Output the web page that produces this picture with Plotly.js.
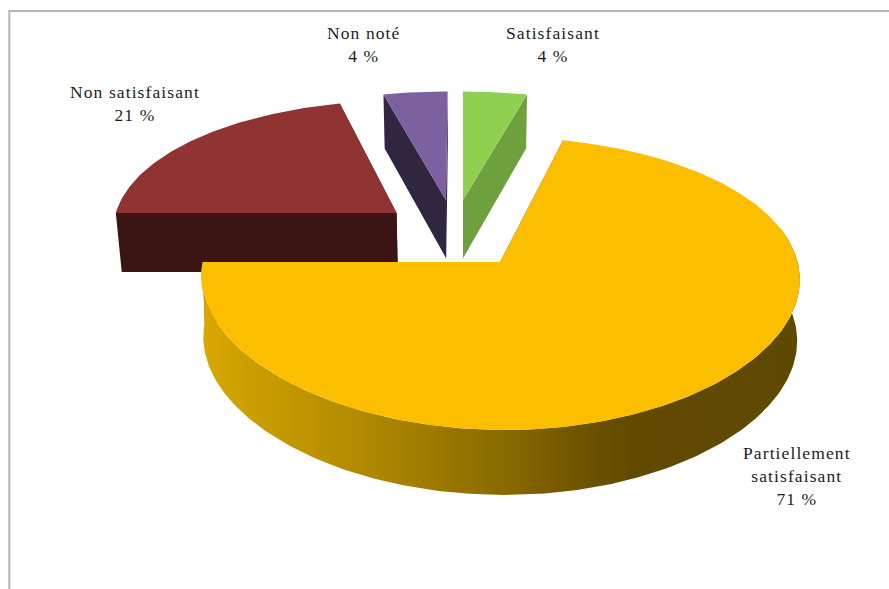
<!DOCTYPE html>
<html lang="fr">
<head>
<meta charset="utf-8">
<title>Répartition des évaluations</title>
<script src="https://cdn.plot.ly/plotly-3.0.1.min.js"></script>
<style>
  html, body { margin: 0; padding: 0; background: #fff; }
  #chart { width: 889px; height: 589px; }
  .annotation-text { letter-spacing: 1.1px; }
</style>
</head>
<body>
<div id="chart"></div>
<script>
// Shares of each rating, in the order they run round the disc.
const categories = ["Partiellement<br>satisfaisant", "Satisfaisant", "Non noté", "Non satisfaisant"];
const shares = [71, 4, 4, 21];

// Colours of each slice: top face and side wall.
const topColors = ["#fcbf00", "#90d050", "#7d60a0", "#8f3432"];
const wallColors = ["#614a00", "#6ea13e", "#302640", "#3b1513"];

// How far each slice is pulled off the disc centre, in radii.
const pullU = [0.124, 0, -0.06, -0.231];
const pullV = [0, 0.472, 0.472, 0.367];

// Small per-slice corrections to the radius: across, and towards the back of the disc.
const radiusU = [0.995, 1, 1, 0.977];
const radiusBack = [1.03, 1.02, 1.02, 1.03];

// Narrowing of each slice's lower edge towards the vanishing line.
const wallTaper = [0.992, 0.985, 0.985, 0.983];

// Label anchors on the pixel-sized axes.
const labelX = [797, 553, 363, 134.5];
const labelY = [476, 44, 44, 103];

// Gradient along the big slice's rim, left to right.
const rimStops = [
  [0, "#d9a900"], [0.1, "#c89c00"], [0.3, "#ad8600"],
  [0.5, "#8a6a00"], [0.66, "#6a5000"], [0.72, "#614a00"], [1, "#5f4800"]
];

// Perspective camera for the tilted disc.
const CAM = { xv: 463, yv: 262, R: 299, S: 141.3, ky: 0.1586, kx: 0.11 };
const START_DEG = 180;

function project(u, v) {
  const wy = 1 + CAM.ky * v, wx = 1 + CAM.kx * v;
  return { x: CAM.xv + CAM.R * u / wx, y: CAM.yv - CAM.S * v / wy, w: wy };
}
function lower(p, i) {
  return { x: CAM.xv + (p.x - CAM.xv) * wallTaper[i], y: p.y + 65 - 28 * (p.w - 0.84) };
}
function rimPoint(i, deg) {
  const t = deg * Math.PI / 180;
  const sin = Math.sin(t);
  return project(
    pullU[i] + radiusU[i] * Math.cos(t),
    pullV[i] + (sin > 0 ? radiusBack[i] : 1) * sin
  );
}
function arc(i, a, b) {
  const n = Math.max(2, Math.ceil(Math.abs(b - a)));
  const pts = [];
  for (let k = 0; k <= n; k++) pts.push(rimPoint(i, a + (b - a) * k / n));
  return pts;
}
function polygon(pts, color, gradient) {
  const tr = {
    type: "scatter", mode: "lines", fill: "toself", hoverinfo: "skip",
    x: pts.map(p => p.x).concat(pts[0].x),
    y: pts.map(p => p.y).concat(pts[0].y),
    line: { width: 0 }, fillcolor: color, showlegend: false
  };
  if (gradient) tr.fillgradient = { type: "horizontal", colorscale: gradient };
  return tr;
}

// Walls and tops per slice; the big front slice goes last so it overlaps the others.
const total = shares.reduce((a, b) => a + b, 0);
let cursor = START_DEG;
const spans = shares.map(s => {
  const span = [cursor, cursor + s / total * 360];
  cursor = span[1];
  return span;
});

const traces = [];
[3, 2, 1, 0].forEach(i => {
  const [a, b] = spans[i];
  const apex = project(pullU[i], pullV[i]);
  [a, b].forEach(deg => {
    const rim = rimPoint(i, deg);
    traces.push(polygon([apex, rim, lower(rim, i), lower(apex, i)], wallColors[i]));
  });
  if (i === 0) {
    // Front rim of the big slice, carried just past the right-hand edge of the disc.
    const edge = arc(i, a, 374);
    traces.push(polygon(edge.concat(edge.map(p => lower(p, i)).reverse()), wallColors[i], rimStops));
  }
  traces.push(polygon([apex].concat(arc(i, a, b)), topColors[i]));
});

const annotations = categories.map((c, i) => ({
  x: labelX[i], y: labelY[i], xref: "x", yref: "y",
  text: c + "<br>" + shares[i] + " %",
  showarrow: false, align: "center", xanchor: "center", yanchor: "middle",
  font: { family: "Liberation Serif", size: 17.5, color: "#1c1c1c" }
}));

const layout = {
  width: 889, height: 589,
  margin: { l: 0, r: 0, t: 0, b: 0 },
  paper_bgcolor: "#fff", plot_bgcolor: "#fff",
  showlegend: false,
  xaxis: { range: [0, 889], visible: false, fixedrange: true },
  yaxis: { range: [589, 0], visible: false, fixedrange: true },
  annotations,
  shapes: [
    { type: "path", path: "M 9.3 589 L 9.3 11 L 889 11", line: { color: "#b4b4b4", width: 2 }, layer: "below" }
  ]
};

Plotly.newPlot("chart", traces, layout, { staticPlot: true, displayModeBar: false });
</script>
</body>
</html>
